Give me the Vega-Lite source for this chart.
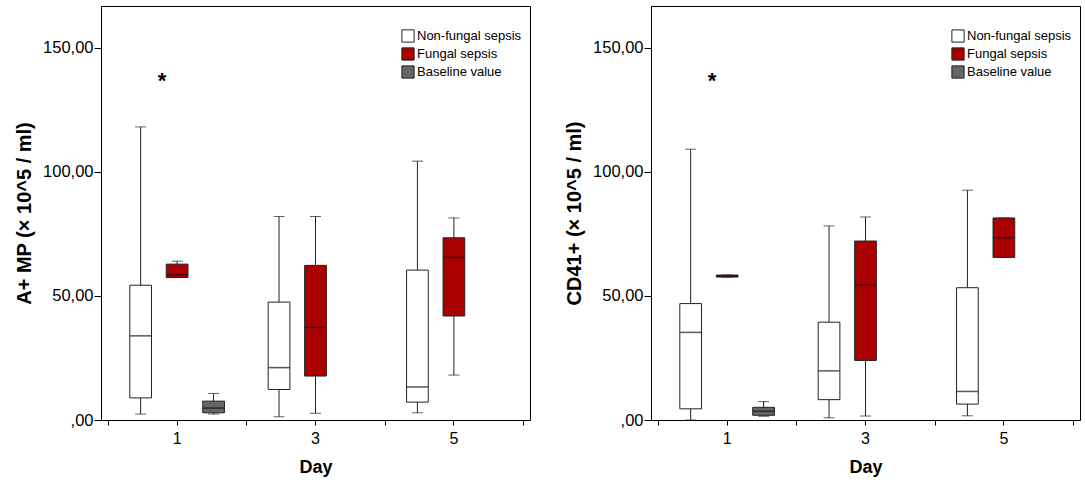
{
  "$schema": "https://vega.github.io/schema/vega-lite/v6.json",
  "padding": {"left": 14, "top": 5, "right": 0, "bottom": 0},
  "spacing": 33,
  "config": {
    "font": "Liberation Sans",
    "view": {"stroke": "#000000", "strokeWidth": 1},
    "axis": {"grid": false, "domainColor": "#000000", "tickColor": "#000000", "labelColor": "#000000", "titleColor": "#000000", "labelFont": "Liberation Sans", "titleFont": "Liberation Sans"},
    "legend": {"labelFont": "Liberation Sans"}
  },
  "datasets": {
    "amp": [
      {"day": "1", "group": "Non-fungal sepsis", "min": 2.4, "q1": 8.9, "median": 33.9, "q3": 54.3, "max": 118.1},
      {"day": "1", "group": "Fungal sepsis", "min": 57.4, "q1": 57.4, "median": 58.5, "q3": 62.8, "max": 64.0},
      {"day": "1", "group": "Baseline value", "min": 2.4, "q1": 2.9, "median": 4.8, "q3": 7.6, "max": 10.7},
      {"day": "3", "group": "Non-fungal sepsis", "min": 1.3, "q1": 12.3, "median": 21.1, "q3": 47.5, "max": 82.0},
      {"day": "3", "group": "Fungal sepsis", "min": 2.7, "q1": 17.7, "median": 37.3, "q3": 62.3, "max": 82.0},
      {"day": "5", "group": "Non-fungal sepsis", "min": 2.9, "q1": 7.2, "median": 13.3, "q3": 60.4, "max": 104.3},
      {"day": "5", "group": "Fungal sepsis", "min": 18.1, "q1": 41.9, "median": 65.5, "q3": 73.4, "max": 81.4}
    ],
    "cd41": [
      {"day": "1", "group": "Non-fungal sepsis", "min": 0, "q1": 4.5, "median": 35.3, "q3": 46.9, "max": 109.1},
      {"day": "1", "group": "Fungal sepsis", "min": 57.6, "q1": 57.6, "median": 58.0, "q3": 58.4, "max": 58.4},
      {"day": "1", "group": "Baseline value", "min": 1.5, "q1": 1.9, "median": 3.5, "q3": 5.1, "max": 7.4},
      {"day": "3", "group": "Non-fungal sepsis", "min": 0.9, "q1": 8.2, "median": 19.8, "q3": 39.4, "max": 78.2},
      {"day": "3", "group": "Fungal sepsis", "min": 1.6, "q1": 24.0, "median": 54.3, "q3": 72.1, "max": 81.8},
      {"day": "5", "group": "Non-fungal sepsis", "min": 1.7, "q1": 6.4, "median": 11.5, "q3": 53.3, "max": 92.6},
      {"day": "5", "group": "Fungal sepsis", "min": 65.5, "q1": 65.5, "median": 73.4, "q3": 81.4, "max": 81.4}
    ],
    "stars": [
      {"day": "1", "group": "Fungal sepsis", "value": 137.5, "label": "*"}
    ]
  },
  "resolve": {"scale": {"color": "independent"}, "legend": {"color": "independent"}},
  "hconcat": [
    {
      "width": 429,
      "height": 414,
      "data": {"name": "amp"},
      "encoding": {
        "x": {"field": "day", "type": "nominal", "scale": {"domain": ["1", "3", "5"], "paddingInner": 0, "paddingOuter": 0.05}, "axis": null},
        "xOffset": {"field": "group", "type": "nominal", "scale": {"domain": ["Non-fungal sepsis", "Fungal sepsis", "Baseline value"], "paddingInner": 0.405, "paddingOuter": 0.6}}
      },
      "resolve": {"axis": {"x": "independent"}},
      "layer": [
        {
          "mark": {"type": "rule", "color": "#222222", "strokeWidth": 1},
          "encoding": {
            "x": {"field": "day", "type": "nominal", "scale": {"domain": ["1", "3", "5"], "paddingInner": 0, "paddingOuter": 0.05},
              "axis": {"orient": "bottom", "labelAngle": 0, "labelFontSize": 16, "labelPadding": 5, "tickSize": 5, "title": "Day", "titleFontSize": 18, "titleFontWeight": "bold", "titlePadding": 12}},
            "y": {"field": "min", "type": "quantitative", "scale": {"domain": [0, 166.8], "nice": false, "zero": true},
              "axis": {"values": [0, 50, 100, 150], "labelExpr": "datum.value == 0 ? ',00' : replace(format(datum.value, '.2f'), '.', ',')", "labelFontSize": 16.5, "labelPadding": 1, "tickSize": 7, "title": "A+ MP (× 10^5 / ml)", "titleFontSize": 20, "titleFontWeight": "bold", "titlePadding": 8}},
            "y2": {"field": "max"}
          }
        },
        {
          "mark": {"type": "tick", "color": "#222222", "thickness": 1, "size": 11},
          "encoding": {
            "x": {"field": "day", "type": "nominal", "scale": {"domain": ["1", "3", "5"], "paddingInner": 0, "paddingOuter": 0.05},
              "axis": {"orient": "bottom", "tickBand": "extent", "labels": false, "domain": false, "tickSize": 5, "title": null}},
            "y": {"field": "min", "type": "quantitative"}
          }
        },
        {
          "mark": {"type": "tick", "color": "#222222", "thickness": 1, "size": 11},
          "encoding": {"y": {"field": "max", "type": "quantitative"}}
        },
        {
          "mark": {"type": "bar", "stroke": "#222222", "strokeWidth": 1},
          "encoding": {
            "y": {"field": "q1", "type": "quantitative"},
            "y2": {"field": "q3"},
            "color": {"field": "group", "type": "nominal", "scale": {"domain": ["Non-fungal sepsis", "Fungal sepsis", "Baseline value"], "range": ["#ffffff", "#aa0000", "#666666"]},
              "legend": {"title": null, "orient": "none", "legendX": 300, "legendY": 23, "symbolType": "square", "symbolSize": 150, "symbolStrokeColor": "#222222", "symbolStrokeWidth": 1, "labelFontSize": 13, "labelColor": "#000000", "rowPadding": 0, "labelOffset": 2}}
          }
        },
        {
          "mark": {"type": "tick", "color": "#111111", "thickness": 1.5, "size": 21},
          "encoding": {"y": {"field": "median", "type": "quantitative"}}
        },
        {
          "data": {"name": "stars"},
          "mark": {"type": "text", "fontSize": 22, "fontWeight": "bold", "color": "#000000", "dx": -15, "dy": 2, "baseline": "middle"},
          "encoding": {"y": {"field": "value", "type": "quantitative"}, "text": {"field": "label"}}
        }
      ]
    },
    {
      "width": 429,
      "height": 414,
      "data": {"name": "cd41"},
      "encoding": {
        "x": {"field": "day", "type": "nominal", "scale": {"domain": ["1", "3", "5"], "paddingInner": 0, "paddingOuter": 0.05}, "axis": null},
        "xOffset": {"field": "group", "type": "nominal", "scale": {"domain": ["Non-fungal sepsis", "Fungal sepsis", "Baseline value"], "paddingInner": 0.405, "paddingOuter": 0.6}}
      },
      "resolve": {"axis": {"x": "independent"}},
      "layer": [
        {
          "mark": {"type": "rule", "color": "#222222", "strokeWidth": 1},
          "encoding": {
            "x": {"field": "day", "type": "nominal", "scale": {"domain": ["1", "3", "5"], "paddingInner": 0, "paddingOuter": 0.05},
              "axis": {"orient": "bottom", "labelAngle": 0, "labelFontSize": 16, "labelPadding": 5, "tickSize": 5, "title": "Day", "titleFontSize": 18, "titleFontWeight": "bold", "titlePadding": 12}},
            "y": {"field": "min", "type": "quantitative", "scale": {"domain": [0, 166.8], "nice": false, "zero": true},
              "axis": {"values": [0, 50, 100, 150], "labelExpr": "datum.value == 0 ? ',00' : replace(format(datum.value, '.2f'), '.', ',')", "labelFontSize": 16.5, "labelPadding": 1, "tickSize": 7, "title": "CD41+ (× 10^5 / ml)", "titleFontSize": 20, "titleFontWeight": "bold", "titlePadding": 8}},
            "y2": {"field": "max"}
          }
        },
        {
          "mark": {"type": "tick", "color": "#222222", "thickness": 1, "size": 11},
          "encoding": {
            "x": {"field": "day", "type": "nominal", "scale": {"domain": ["1", "3", "5"], "paddingInner": 0, "paddingOuter": 0.05},
              "axis": {"orient": "bottom", "tickBand": "extent", "labels": false, "domain": false, "tickSize": 5, "title": null}},
            "y": {"field": "min", "type": "quantitative"}
          }
        },
        {
          "mark": {"type": "tick", "color": "#222222", "thickness": 1, "size": 11},
          "encoding": {"y": {"field": "max", "type": "quantitative"}}
        },
        {
          "mark": {"type": "bar", "stroke": "#222222", "strokeWidth": 1},
          "encoding": {
            "y": {"field": "q1", "type": "quantitative"},
            "y2": {"field": "q3"},
            "color": {"field": "group", "type": "nominal", "scale": {"domain": ["Non-fungal sepsis", "Fungal sepsis", "Baseline value"], "range": ["#ffffff", "#aa0000", "#666666"]},
              "legend": {"title": null, "orient": "none", "legendX": 300, "legendY": 23, "symbolType": "square", "symbolSize": 150, "symbolStrokeColor": "#222222", "symbolStrokeWidth": 1, "labelFontSize": 13, "labelColor": "#000000", "rowPadding": 0, "labelOffset": 2}}
          }
        },
        {
          "mark": {"type": "tick", "color": "#111111", "thickness": 1.5, "size": 21},
          "encoding": {"y": {"field": "median", "type": "quantitative"}}
        },
        {
          "data": {"name": "stars"},
          "mark": {"type": "text", "fontSize": 22, "fontWeight": "bold", "color": "#000000", "dx": -15, "dy": 2, "baseline": "middle"},
          "encoding": {"y": {"field": "value", "type": "quantitative"}, "text": {"field": "label"}}
        }
      ]
    }
  ]
}
